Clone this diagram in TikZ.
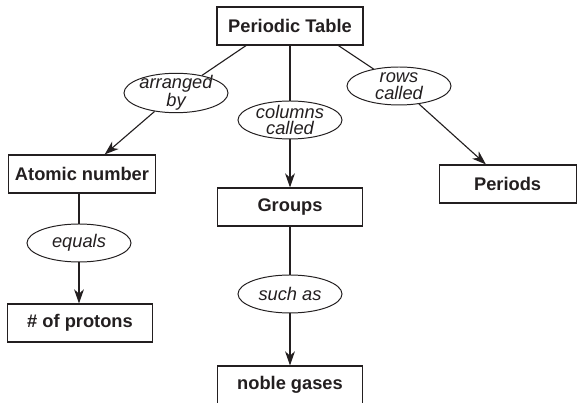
\documentclass[tikz,border=0pt]{standalone}
\usepackage{fontspec}
\setmainfont{Liberation Sans}
\usepackage{tikz}
\usetikzlibrary{shapes.geometric,arrows.meta}
\definecolor{inkcol}{HTML}{231F20}

\begin{document}
\begin{tikzpicture}[x=1cm, y=1cm,
      termbox/.style={draw=inkcol, line width=0.8pt, fill=white,
                      font=\fontsize{13}{15}\selectfont\bfseries, text=inkcol,
                      minimum height=0.95cm},
      linkoval/.style={ellipse, draw=inkcol, line width=0.7pt, fill=white,
                       font=\fontsize{13}{12}\selectfont\itshape, text=inkcol,
                       align=center, inner xsep=0pt, inner ysep=-2.7pt,
                       minimum width=2.6cm, minimum height=0.95cm},
      link/.style={line width=0.8pt, color=inkcol},
      arr/.style={link, -{Stealth[length=10pt, width=7pt, inset=3pt]}}]

    \useasboundingbox (0,0) rectangle (14.425,10.075);

    % concepts
    \node[termbox, minimum width=3.65cm] (table) at (7.25,9.425) {Periodic Table};
    \node[termbox, minimum width=3.675cm] (atomic) at (2.05,5.725) {Atomic number};
    \node[termbox, minimum width=3.625cm] (protons) at (2.0,2.0) {\# of protons};
    \node[termbox, minimum width=3.625cm] (groups) at (7.25,4.9) {Groups};
    \node[termbox, minimum width=3.625cm] (noble) at (7.25,0.45) {noble gases};
    \node[termbox, minimum width=3.425cm] (periods) at (12.69,5.475) {Periods};

    % linking words
    \node[linkoval] (arranged) at (4.4,7.75) {arranged\\by};
    \node[linkoval] (columns) at (7.25,7.075) {columns\\called};
    \node[linkoval] (rows) at (9.975,7.925) {rows\\called};
    \node[linkoval] (equals) at (1.975,4.0) {equals};
    \node[linkoval] (suchas) at (7.25,2.725) {such as};

    \draw[link] (table.204) -- (arranged);
    \draw[arr] (arranged) -- (atomic);
    \draw[link] (table) -- (columns);
    \draw[arr] (columns) -- (groups);
    \draw[link] (table.338) -- (rows);
    \draw[arr] (rows) -- (periods);
    \draw[link] (atomic.south -| equals) -- (equals);
    \draw[arr] (equals) -- (protons.north -| equals);
    \draw[link] (groups) -- (suchas);
    \draw[arr] (suchas) -- (noble);
  \end{tikzpicture}
\end{document}
